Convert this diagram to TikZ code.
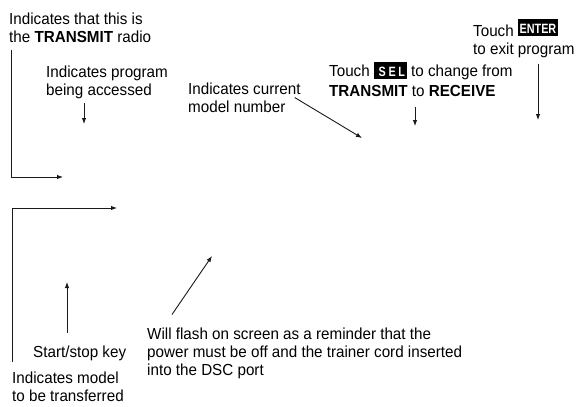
\documentclass[tikz,border=0pt]{standalone}
\usepackage{fontspec}
\setmainfont[FakeStretch=0.95]{Liberation Sans}
\newfontfamily\keyfont[FakeStretch=0.8]{Liberation Sans Bold}
\usepackage{xcolor}
\usetikzlibrary{arrows.meta, positioning, calc}
\definecolor{ctrazo}{HTML}{1a1a1a}
% tecla en caja negra: alzado, ancho, texto
\newcommand{\keycap}[3]{{\setlength{\fboxsep}{0pt}\raisebox{#1}{\colorbox{black}{\makebox[#2]{\rule[-3pt]{0pt}{17pt}\textcolor{white}{\fontsize{13.5}{13.5}\keyfont #3}}}}}}
\tikzset{
  nota/.style={anchor=north west, inner sep=0pt, align=left, font=\fontsize{16}{18}\selectfont},
  flecha/.style={-{Latex[length=6pt, width=4.5pt]}, line width=0.9pt, draw=ctrazo},
}

\begin{document}
\begin{tikzpicture}[x=1pt, y=-1pt]
        \useasboundingbox (0,0) rectangle (576,407);
        \node[nota] (tx) at (9,12.5) {Indicates that this is\\the \textbf{TRANSMIT} radio};
        \node[nota] (prog) at (46,65.5) {Indicates program\\being accessed};
        \node[nota] (model) at (188,82.5) {Indicates current\\model number};
        \node[nota] (sel) at (329,62) {Touch \keycap{0pt}{33pt}{\addfontfeature{LetterSpace=20}SEL\kern-2.7pt} to change from\\[2pt]\textbf{TRANSMIT} to \textbf{RECEIVE}};
        \node[nota] (enter) at (473,19) {Touch \keycap{3pt}{40pt}{ENTER}\\to exit program};
        \node[nota] (stop) at (33,345.5) {Start/stop key};
        \node[nota] (transf) at (12,371.5) {Indicates model\\to be transferred};
        \node[nota] (flash) at (147,327.5) {Will flash on screen as a reminder that the\\power must be off and the trainer cord inserted\\into the DSC port};
        \coordinate (lcdA) at (63,177);
        \coordinate (lcdB) at (117,208);
        \coordinate (progTip) at (84,124);
        \coordinate (modelTip) at (362,138);
        \coordinate (selTip) at (415,126);
        \coordinate (enterTip) at (538,120);
        \coordinate (stopTip) at (67,282);
        \coordinate (flashTip) at (212,256);
        \draw[flecha] ([xshift=2.5pt,yshift=-7pt]tx.south west) |- (lcdA);
        \draw[flecha] ([yshift=10pt]transf.north west) |- (lcdB);
        \draw[flecha] ($(prog.south -| progTip)+(0,4)$) -- (progTip);
        \draw[flecha] ([xshift=-6pt]model.east) -- (modelTip);
        \draw[flecha] ($(sel.south -| selTip)+(0,10)$) -- (selTip);
        \draw[flecha] ($(enter.south -| enterTip)+(0,6)$) -- (enterTip);
        \draw[flecha] ($(stop.north -| stopTip)+(0,-13)$) -- (stopTip);
        \draw[flecha] ($(flash.north west)+(25,-13)$) -- (flashTip);
    \end{tikzpicture}
\end{document}
